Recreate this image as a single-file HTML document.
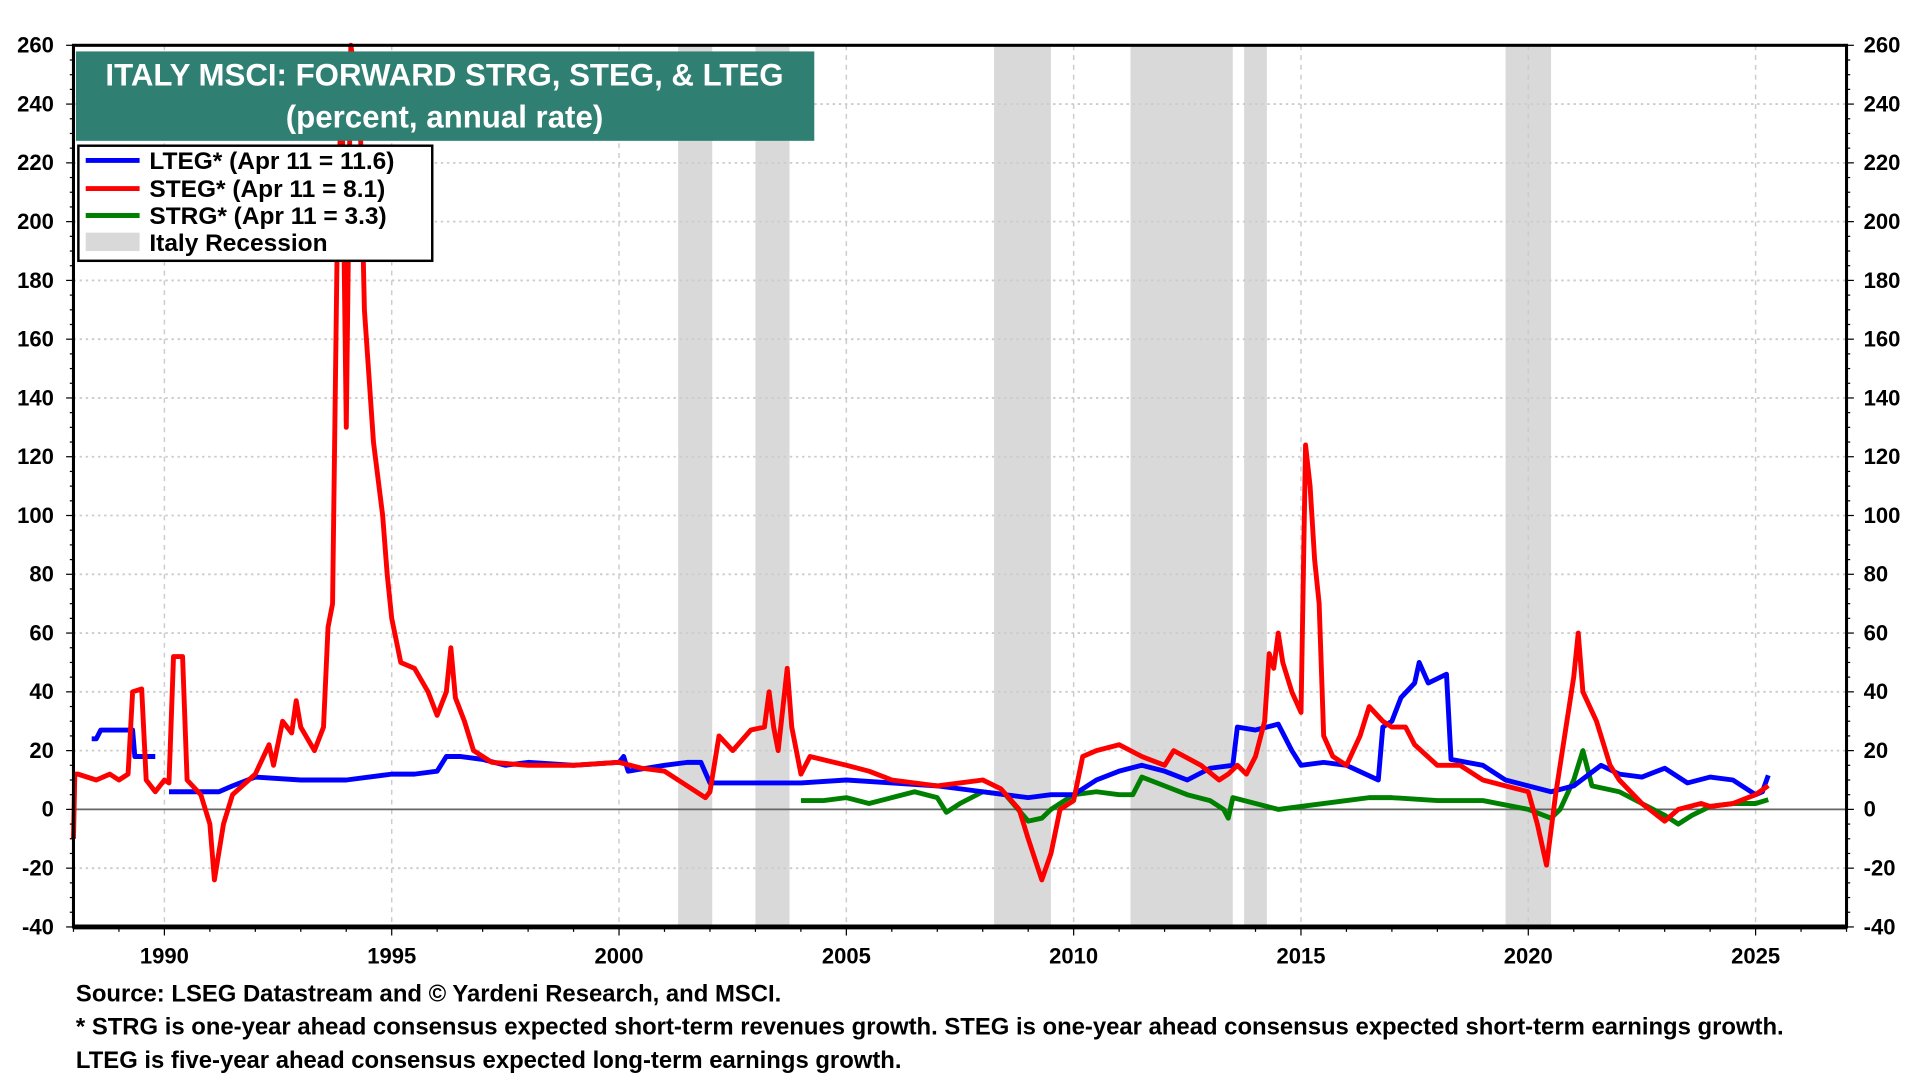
<!DOCTYPE html>
<html><head><meta charset="utf-8"><style>
html,body{margin:0;padding:0;background:#fff;}
svg{display:block;font-family:"Liberation Sans",Arial,sans-serif;font-weight:bold;}
</style></head><body>
<svg id="chart" width="1920" height="1080" viewBox="0 0 1568 882" preserveAspectRatio="none" xmlns="http://www.w3.org/2000/svg">
<g id="bands"></g>
<g id="grid"></g>
<g id="series"></g>
<g id="axes"></g>
<g>
<rect x="62" y="42" width="603" height="73" fill="#2f7f72"/>
<text x="363" y="70" text-anchor="middle" fill="#fff" font-size="25.5">ITALY MSCI: FORWARD STRG, STEG, &amp; LTEG</text>
<text x="363" y="104" text-anchor="middle" fill="#fff" font-size="25.5">(percent, annual rate)</text>
</g>
<g>
<rect x="64" y="119" width="289" height="94" fill="#fff" stroke="#000" stroke-width="2"/>
<g><line x1="70" y1="131" x2="114" y2="131" stroke="#0000ff" stroke-width="4"/><text x="122" y="138" font-size="20">LTEG* (Apr 11 = 11.6)</text></g>
<g><line x1="70" y1="154" x2="114" y2="154" stroke="#ff0000" stroke-width="4"/><text x="122" y="161" font-size="20">STEG* (Apr 11 = 8.1)</text></g>
<g><line x1="70" y1="176" x2="114" y2="176" stroke="#008000" stroke-width="4"/><text x="122" y="183" font-size="20">STRG* (Apr 11 = 3.3)</text></g>
<g><rect x="70" y="190" width="44" height="15" fill="#d9d9d9"/><text x="122" y="205" font-size="20">Italy Recession</text></g>
</g>
<g font-size="19.5">
<text x="62" y="818">Source: LSEG Datastream and © Yardeni Research, and MSCI.</text>
<text x="62" y="845">* STRG is one-year ahead consensus expected short-term revenues growth. STEG is one-year ahead consensus expected short-term earnings growth.</text>
<text x="62" y="872">LTEG is five-year ahead consensus expected long-term earnings growth.</text>
</g>
</svg>
<script>
const yTicks=[260,240,220,200,180,160,140,120,100,80,60,40,20,0,-20,-40];
const xTickYears=[1990,1995,2000,2005,2010,2015,2020,2025];
const recessions=[[2001.3,2002.05],[2003.0,2003.75],[2008.25,2009.5],[2011.25,2013.5],[2013.75,2014.25],[2019.5,2020.5]];
const ltegYears=[1988.4,1988.5,1988.6,1989.3,1989.35,1989.8,null,1990.1,1991.2,1991.5,1992,1993,1994,1995,1995.5,1996,1996.2,1996.5,1997,1997.5,1998,1999,2000,2000.1,2000.2,2001,2001.5,2001.8,2002,2003,2004,2005,2006,2007,2008,2009,2009.5,2010,2010.5,2011,2011.5,2012,2012.5,2013,2013.5,2013.6,2014,2014.5,2014.8,2015,2015.5,2016,2016.7,2016.8,2017,2017.2,2017.5,2017.6,2017.8,2018.2,2018.3,2019,2019.5,2020,2020.5,2021,2021.6,2022,2022.5,2023,2023.5,2024,2024.5,2025,2025.15,2025.28];
const ltegValues=[24,24,27,27,18,18,null,6,6,8,11,10,10,12,12,13,18,18,17,15,16,15,16,18,13,15,16,16,9,9,9,10,9,8,6,4,5,5,10,13,15,13,10,14,15,28,27,29,20,15,16,15,10,28,30,38,43,50,43,46,17,15,10,8,6,8,15,12,11,14,9,11,10,5,6,11.6];
const stegYears=[1988.0,1988.03,1988.1,1988.5,1988.8,1989.0,1989.2,1989.3,1989.5,1989.6,1989.8,1990.0,1990.1,1990.2,1990.4,1990.5,1990.8,1991.0,1991.1,1991.3,1991.5,1992.0,1992.3,1992.4,1992.6,1992.8,1992.9,1993.0,1993.3,1993.5,1993.6,1993.7,1993.8,1993.9,1994.0,1994.1,1994.3,1994.4,1994.6,1994.8,1994.9,1995.0,1995.2,1995.5,1995.8,1996.0,1996.2,1996.3,1996.4,1996.6,1996.8,1997.2,1998,1999,2000,2000.5,2001,2001.5,2001.9,2002.0,2002.2,2002.5,2002.9,2003.2,2003.3,2003.4,2003.5,2003.7,2003.8,2004.0,2004.2,2005,2005.5,2006,2007,2007.5,2008,2008.4,2008.8,2009.0,2009.3,2009.5,2009.7,2010.0,2010.2,2010.5,2011,2011.5,2012,2012.2,2012.8,2013.2,2013.4,2013.6,2013.8,2014.0,2014.2,2014.3,2014.4,2014.5,2014.6,2014.8,2015.0,2015.1,2015.2,2015.3,2015.4,2015.5,2015.7,2016.0,2016.3,2016.5,2016.8,2017.0,2017.3,2017.5,2018.0,2018.5,2019,2019.5,2020,2020.2,2020.4,2020.6,2020.8,2021.0,2021.1,2021.2,2021.5,2021.8,2022.0,2022.5,2023.0,2023.3,2023.8,2024,2024.5,2025,2025.28];
const stegValues=[-10,12,12,10,12,10,12,40,41,10,6,10,9,52,52,10,5,-5,-24,-5,5,12,22,15,30,26,37,28,20,28,62,70,190,250,130,260,240,170,125,100,80,65,50,48,40,32,40,55,38,30,20,16,15,15,16,14,13,8,4,6,25,20,27,28,40,28,20,48,28,12,18,15,13,10,8,9,10,7,0,-10,-24,-15,0,3,18,20,22,18,15,20,15,10,12,15,12,18,30,53,48,60,50,40,33,124,110,85,70,25,18,15,25,35,30,28,28,22,15,15,10,8,6,-5,-19,5,25,45,60,40,30,15,10,2,-4,0,2,1,2,5,8.1];
const strgYears=[2004.0,2004.5,2005,2005.5,2006,2006.5,2007,2007.2,2007.5,2008,2008.5,2009,2009.3,2009.5,2010,2010.5,2011,2011.3,2011.5,2012,2012.5,2013,2013.3,2013.4,2013.5,2014,2014.5,2015,2016,2016.5,2017,2018,2019,2020,2020.5,2020.7,2021,2021.2,2021.4,2022,2022.5,2023,2023.3,2023.6,2024,2024.5,2025,2025.28];
const strgValues=[3,3,4,2,4,6,4,-1,2,6,5,-4,-3,0,5,6,5,5,11,8,5,3,0,-3,4,2,0,1,3,4,4,3,3,0,-3,0,10,20,8,6,2,-2,-5,-2,1,2,2,3.3];
const NS='http://www.w3.org/2000/svg';
const L=60,R=1508,T=37,B=757,YMAX=260,YMIN=-40,X0=1988,X1=2027;
function xs(y){return L+(y-X0)/(X1-X0)*(R-L);}
function ys(v){return T+(YMAX-v)/(YMAX-YMIN)*(B-T);}
function mk(tag,attrs,parent){const e=document.createElementNS(NS,tag);for(const k in attrs)e.setAttribute(k,attrs[k]);parent.appendChild(e);return e;}
const bands=document.getElementById('bands'),grid=document.getElementById('grid'),series=document.getElementById('series'),axes=document.getElementById('axes');
recessions.forEach(r=>{const e=mk('rect',{x:xs(r[0]),y:T,width:xs(r[1])-xs(r[0]),height:B-T,fill:'#d9d9d9'},bands);

});
yTicks.forEach(v=>{if(v!==0&&v!==YMAX&&v!==YMIN){const e=mk('line',{x1:L,x2:R,y1:ys(v),y2:ys(v),stroke:'#cccccc','stroke-width':1.5,'stroke-dasharray':'2,3'},grid);

}});
xTickYears.forEach(y=>{const e=mk('line',{x1:xs(y),x2:xs(y),y1:T,y2:B,stroke:'#cccccc','stroke-width':1.2,'stroke-dasharray':'4,4'},grid);

});
const z=mk('line',{x1:L,x2:R,y1:ys(0),y2:ys(0),stroke:'#666','stroke-width':1.5},grid);


function drawSeries(xsArr,vals,color,name){let d='',pen=false;
for(let i=0;i<xsArr.length;i++){if(xsArr[i]===null){pen=false;continue;}
const v=Math.max(YMIN,Math.min(YMAX,vals[i]));d+=(pen?'L':'M')+xs(xsArr[i]).toFixed(1)+','+ys(v).toFixed(1);pen=true;}
const p=mk('path',{d:d,fill:'none',stroke:color,'stroke-width':4,'stroke-linejoin':'round'},series);

}
drawSeries(strgYears,strgValues,'#008000','strg-line');
drawSeries(ltegYears,ltegValues,'#0000ff','lteg-line');
drawSeries(stegYears,stegValues,'#ff0000','steg-line');
const frame=mk('rect',{x:L,y:T,width:R-L,height:B-T,fill:'none',stroke:'#000','stroke-width':2.5},axes);


mk('line',{x1:L,x2:R,y1:B,y2:B,stroke:'#000','stroke-width':4},axes);
for(let v=YMIN;v<=YMAX;v+=5){const len=(v%20===0)?6:3;
mk('line',{x1:L-len,x2:L,y1:ys(v),y2:ys(v),stroke:'#000','stroke-width':1},axes);
mk('line',{x1:R,x2:R+len,y1:ys(v),y2:ys(v),stroke:'#000','stroke-width':1},axes);}
yTicks.forEach(v=>{const a=mk('text',{x:L-16,y:ys(v)+6,'text-anchor':'end','font-size':18},axes);a.textContent=v;


const b=mk('text',{x:R+14,y:ys(v)+6,'text-anchor':'start','font-size':18},axes);b.textContent=v;

});
for(let y=1988;y<=2027;y++){mk('line',{x1:xs(y),x2:xs(y),y1:B,y2:B+(y%5===0?7:4),stroke:'#000','stroke-width':1},axes);}
xTickYears.forEach(y=>{const t=mk('text',{x:xs(y),y:787,'text-anchor':'middle','font-size':18},axes);t.textContent=y;

});
</script>
</body></html>
